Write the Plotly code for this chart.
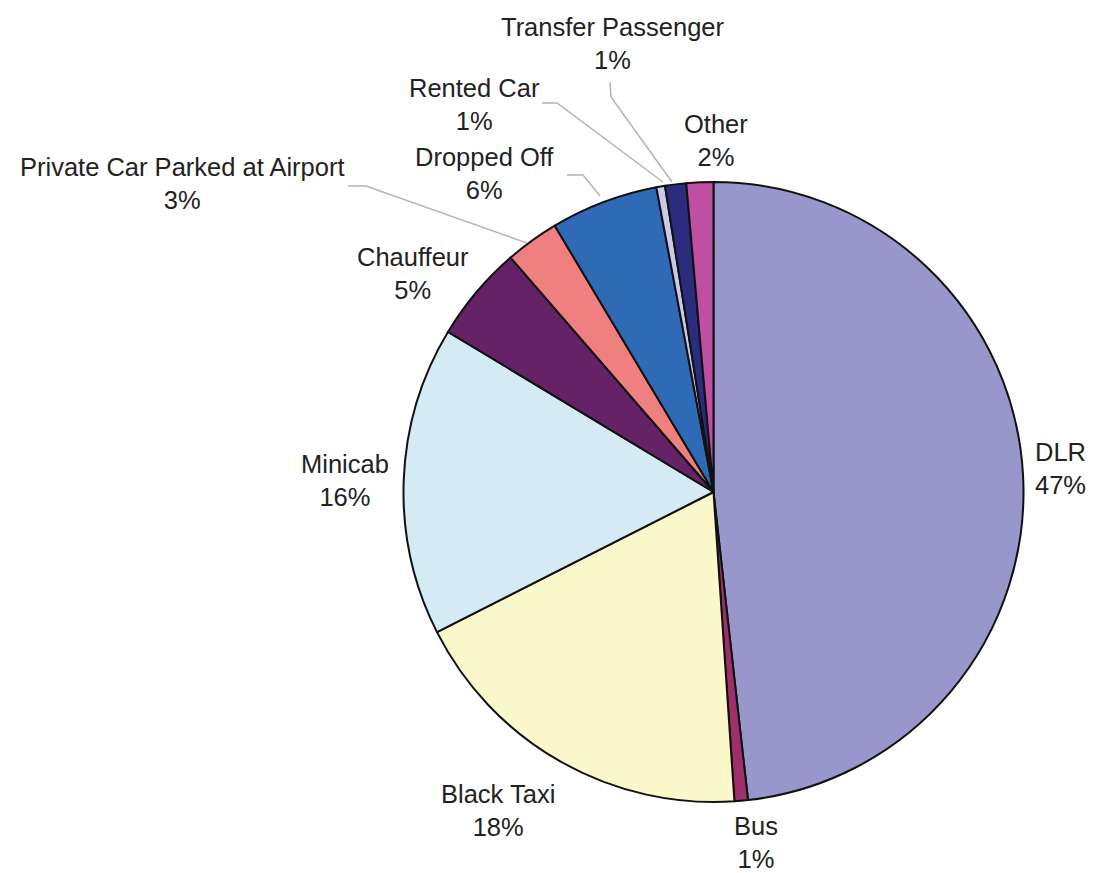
import plotly.graph_objects as go

# Data (percent shares)
categories = ["DLR", "Bus", "Black Taxi", "Minicab", "Chauffeur",
              "Private Car Parked at Airport", "Dropped Off", "Rented Car",
              "Transfer Passenger", "Other"]
values = [48.2, 0.7, 18.6, 16.1, 5.0, 2.8, 5.6, 0.45, 1.1, 1.4]
pct_labels = ["47%", "1%", "18%", "16%", "5%", "3%", "6%", "1%", "1%", "2%"]
colors = ["#9797CB", "#9E2F6A", "#FBF8CC", "#D4EBF5", "#662266",
          "#F08080", "#2F6AB7", "#CACAE8", "#2C2C7E", "#BE4FA3"]

W, H = 1093, 873
cx, cy, r = 713.5, 492, 310

fig = go.Figure(go.Pie(
    labels=categories, values=values, sort=False, direction="clockwise",
    rotation=0, textinfo="none", hoverinfo="label+percent",
    marker=dict(colors=colors, line=dict(color="#111111", width=2)),
    domain=dict(x=[(cx - r) / W, (cx + r) / W],
                y=[(H - cy - r) / H, (H - cy + r) / H]),
    showlegend=False,
))

# label block centres (pixels)
label_pos = {
    "DLR": (1060, 468),
    "Bus": (756, 842),
    "Black Taxi": (498, 810),
    "Minicab": (345, 480),
    "Chauffeur": (413, 273),
    "Private Car Parked at Airport": (182, 183),
    "Dropped Off": (484, 174),
    "Rented Car": (474, 104),
    "Transfer Passenger": (612, 43),
    "Other": (716, 141),
}

def px(x):
    return x / W

def py(y):
    return 1 - y / H

annotations = []
for cat, pct in zip(categories, pct_labels):
    x, y = label_pos[cat]
    annotations.append(dict(
        x=px(x), y=py(y), xref="paper", yref="paper",
        text=f"{cat}<br>{pct}", showarrow=False,
        xanchor="center", yanchor="middle", align="center",
        font=dict(family="Liberation Sans, Arial, sans-serif", size=25.5, color="#222222"),
    ))

# leader lines (pixel polylines)
leaders = [
    [(348, 186), (366, 186), (527, 243)],
    [(567, 175), (583, 175), (600, 196)],
    [(542, 103), (557, 103), (663, 182)],
    [(610, 82), (611, 97), (672, 182)],
]
shapes = []
for pts in leaders:
    path = "M " + " L ".join(f"{px(x)},{py(y)}" for x, y in pts)
    shapes.append(dict(type="path", xref="paper", yref="paper", path=path,
                       line=dict(color="#B4B4B4", width=1.5)))

fig.update_layout(
    width=W, height=H,
    margin=dict(l=0, r=0, t=0, b=0),
    paper_bgcolor="white", plot_bgcolor="white",
    annotations=annotations, shapes=shapes,
)

fig.write_html("out.html", config={"displayModeBar": False},
               post_script="document.body.style.margin='0';document.body.style.overflow='hidden';")
